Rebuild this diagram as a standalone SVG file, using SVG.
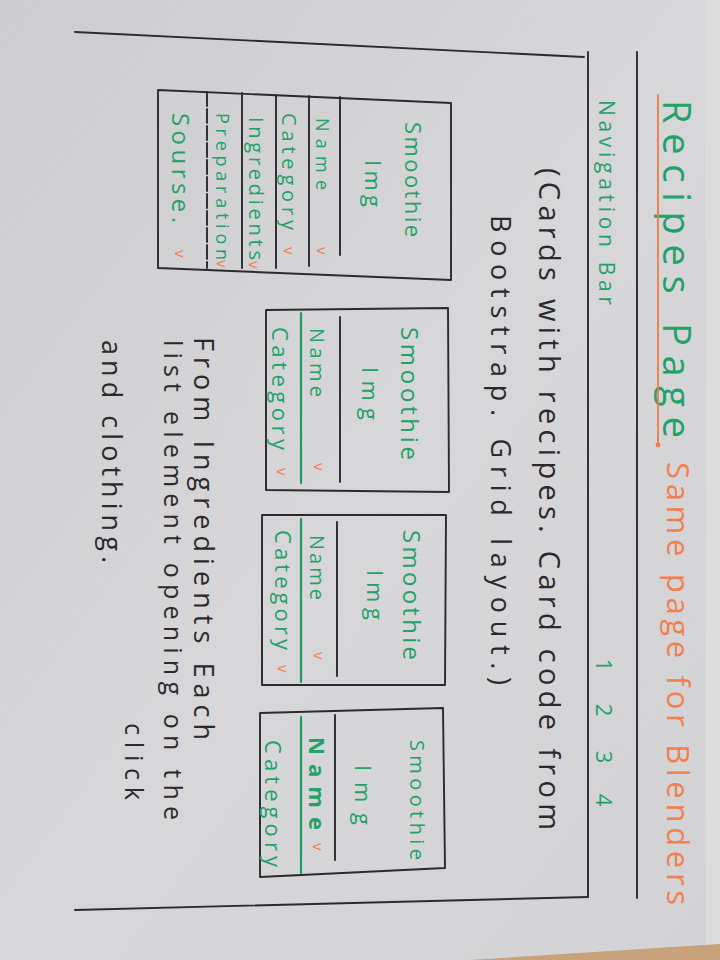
<svg xmlns="http://www.w3.org/2000/svg" width="720" height="960" viewBox="0 0 720 960">
  <defs>
    <linearGradient id="paper" x1="0" y1="0" x2="1" y2="1">
      <stop offset="0" stop-color="#cdcdcf"/>
      <stop offset="0.5" stop-color="#d7d7d9"/>
      <stop offset="1" stop-color="#d3d3d5"/>
    </linearGradient>
    <style>
      .ink { fill: none; stroke: #2b2b2d; stroke-width: 1.9; stroke-linecap: round; stroke-linejoin: round; }
      .gline { fill: none; stroke: #1f9a62; stroke-width: 2.2; stroke-linecap: round; }
      .oline { fill: none; stroke: #f07a4e; stroke-width: 1.8; stroke-linecap: round; }
      text { font-family: "Open Sans", "Liberation Sans", sans-serif; }
      .green { fill: #22a168; }
      .orange { fill: #f2804f; }
      .black { fill: #2a2a2c; }
      .tick { fill: #f2804f; font-size: 15px; }
    </style>
  </defs>

  <!-- paper and table edge -->
  <rect x="0" y="0" width="720" height="960" fill="url(#paper)"/>
  <rect x="706" y="0" width="14" height="950" fill="#dcdcdd"/>
  <polygon points="470,960 720,944 720,960" fill="#c7a27a"/>

  <!-- sheet drawn in reading orientation, turned a quarter turn -->
  <g transform="matrix(0 1 -1 0 720 0)">

    <!-- page frame and navigation band -->
    <g id="frame">
      <path class="ink" d="M32 645 L57 136"/>
      <path class="ink" d="M910 645 L897 132"/>
      <path class="ink" d="M52 83 L898 83"/>
      <path class="ink" d="M52 132 L897 132"/>
    </g>

    <!-- title -->
    <g id="title">
      <text class="green" x="100" y="57" font-size="38" textLength="338" lengthAdjust="spacing">Recipes Page</text>
      <path class="oline" d="M95 62 L445 62"/>
      <circle cx="445" cy="62" r="2.4" fill="#f07a4e"/>
      <text class="orange" x="462" y="53" font-size="31" textLength="443" lengthAdjust="spacing">Same page for Blenders</text>
    </g>

    <!-- navigation bar -->
    <g id="navbar">
      <text class="green" x="100" y="121" font-size="21" textLength="205" lengthAdjust="spacing">Navigation Bar</text>
      <text class="green" x="665" y="124" font-size="22" text-anchor="middle">1</text>
      <text class="green" x="710" y="124" font-size="22" text-anchor="middle">2</text>
      <text class="green" x="757" y="124" font-size="22" text-anchor="middle">3</text>
      <text class="green" x="800" y="124" font-size="22" text-anchor="middle">4</text>
    </g>

    <!-- note about the card grid -->
    <g id="grid-note">
      <text class="black" x="168" y="181" font-size="29" textLength="662" lengthAdjust="spacing">(Cards with recipes. Card code from</text>
      <text class="black" x="215" y="229" font-size="27" textLength="470" lengthAdjust="spacing">Bootstrap. Grid layout.)</text>
    </g>

    <!-- expanded recipe card -->
    <g id="card-detail">
      <path class="ink" d="M103 269 L280 269 L268 562 L90 562 Z"/>
      <path class="ink" d="M97 380 L255 380"/>
      <path class="ink" d="M96 411 L266 411"/>
      <path class="ink" d="M95 444 L268 444"/>
      <path class="ink" d="M93 478 L268 478"/>
      <path class="ink" d="M92 513 L268 513" stroke-dasharray="14 3"/>
      <text class="green" x="122" y="315" font-size="22" textLength="115" lengthAdjust="spacing">Smoothie</text>
      <text class="green" x="160" y="355" font-size="22" textLength="47" lengthAdjust="spacing">Img</text>
      <text class="green" x="118" y="404" font-size="18" textLength="72" lengthAdjust="spacing">Name</text>
      <text class="tick" x="247" y="403">v</text>
      <text class="green" x="113" y="438" font-size="20" textLength="117" lengthAdjust="spacing">Category</text>
      <text class="tick" x="247" y="436">v</text>
      <text class="green" x="117" y="471" font-size="20" textLength="143" lengthAdjust="spacing">Ingredients</text>
      <text class="tick" x="261" y="471">v</text>
      <text class="green" x="113" y="504" font-size="18" textLength="147" lengthAdjust="spacing">Preparation</text>
      <text class="tick" x="260" y="503">v</text>
      <text class="green" x="113" y="548" font-size="24" textLength="110" lengthAdjust="spacing">Sourse.</text>
      <text class="tick" x="250" y="545">v</text>
    </g>

    <!-- recipe cards -->
    <g id="card-1">
      <path class="ink" d="M308 272 L492 271 L490 454 L310 454 Z"/>
      <path class="ink" d="M317 380 L482 380"/>
      <path class="gline" d="M313 419 L483 419"/>
      <text class="green" x="327" y="319" font-size="24" textLength="133" lengthAdjust="spacing">Smoothie</text>
      <text class="green" x="367" y="358" font-size="22" textLength="53" lengthAdjust="spacing">Img</text>
      <text class="green" x="328" y="410" font-size="20" textLength="69" lengthAdjust="spacing">Name</text>
      <text class="tick" x="463" y="406">v</text>
      <text class="green" x="327" y="448" font-size="22" textLength="123" lengthAdjust="spacing">Category</text>
      <text class="tick" x="468" y="443">v</text>
    </g>

    <g id="card-2">
      <path class="ink" d="M515 274 L685 275 L685 458 L515 458 Z"/>
      <path class="ink" d="M522 383 L676 383"/>
      <path class="gline" d="M519 419 L682 419"/>
      <text class="green" x="530" y="317" font-size="24" textLength="130" lengthAdjust="spacing">Smoothie</text>
      <text class="green" x="570" y="353" font-size="22" textLength="50" lengthAdjust="spacing">Img</text>
      <text class="green" x="535" y="410" font-size="20" textLength="65" lengthAdjust="spacing">Name</text>
      <text class="tick" x="652" y="406">v</text>
      <text class="green" x="530" y="445" font-size="22" textLength="120" lengthAdjust="spacing">Category</text>
      <text class="tick" x="665" y="442">v</text>
    </g>

    <g id="card-3">
      <path class="ink" d="M708 277 L868 275 L877 460 L713 460 Z"/>
      <path class="ink" d="M715 385 L860 385"/>
      <path class="gline" d="M717 419 L873 419"/>
      <text class="green" x="740" y="310" font-size="20" textLength="120" lengthAdjust="spacing">Smoothie</text>
      <text class="green" x="765" y="365" font-size="22" textLength="60" lengthAdjust="spacing">Img</text>
      <text class="green" x="737" y="411" font-size="22" font-weight="bold" textLength="93" lengthAdjust="spacing">Name</text>
      <text class="tick" x="843" y="407">v</text>
      <text class="green" x="740" y="455" font-size="22" textLength="127" lengthAdjust="spacing">Category</text>
    </g>

    <!-- note about the ingredient list -->
    <g id="list-note">
      <text class="black" x="337" y="526" font-size="27" textLength="403" lengthAdjust="spacing">From Ingredients Each</text>
      <text class="black" x="340" y="556" font-size="25" textLength="480" lengthAdjust="spacing">list element opening on the</text>
      <text class="black" x="723" y="595" font-size="25" textLength="77" lengthAdjust="spacing">click</text>
      <text class="black" x="340" y="618" font-size="27" textLength="223" lengthAdjust="spacing">and clothing.</text>
    </g>
  </g>
</svg>
